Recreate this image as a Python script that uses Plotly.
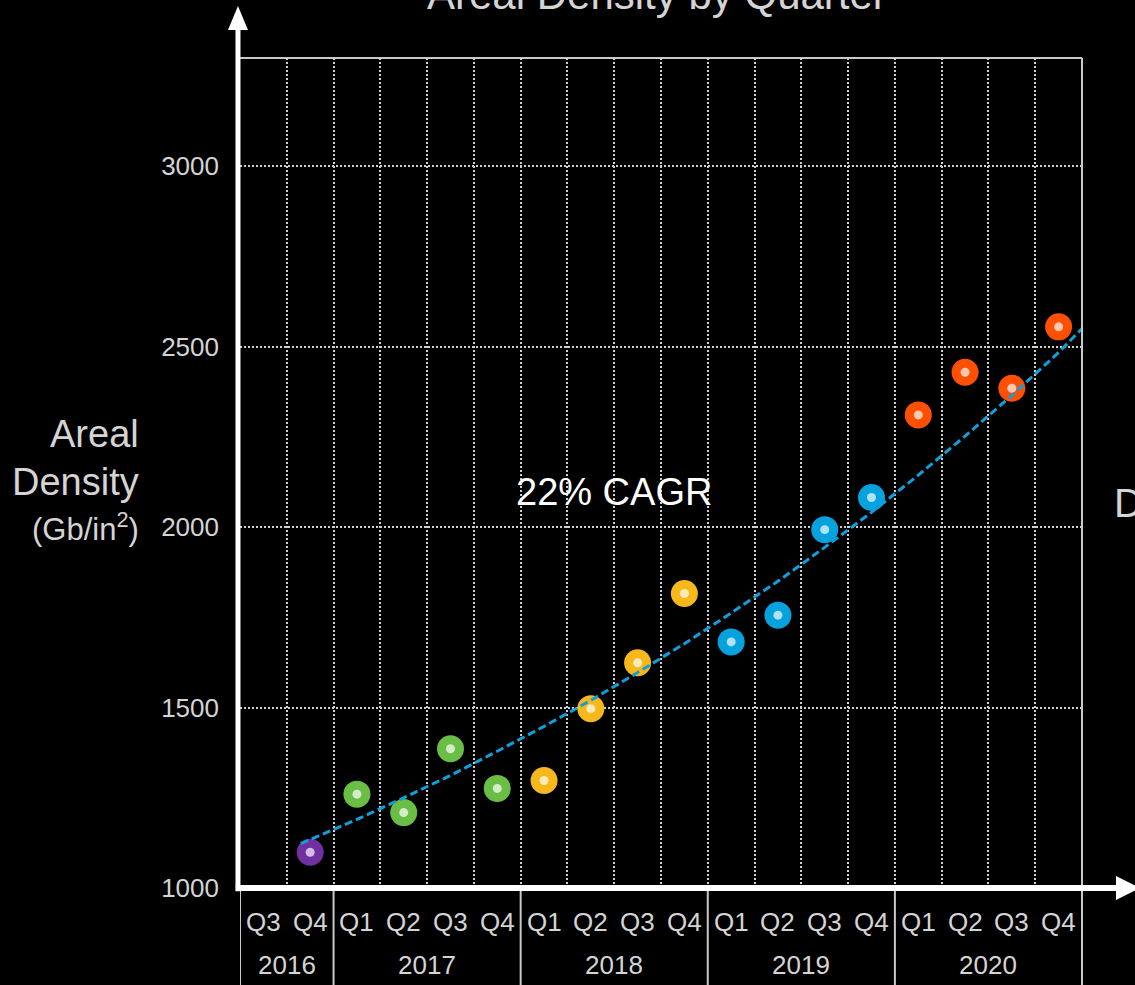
import plotly.graph_objects as go

# ---------------- data ----------------
quarter_labels = ["Q3", "Q4"] + ["Q1", "Q2", "Q3", "Q4"] * 4
years = ["2016", "2017", "2018", "2019", "2020"]
quarters_per_year = [2, 4, 4, 4, 4]
# areal density (Gb/in^2) per quarter, Q3 2016 .. Q4 2020 (no value for Q3 2016)
density = [None, 1099, 1260, 1209, 1386, 1276, 1298, 1497, 1624, 1816,
           1682, 1756, 1993, 2082, 2311, 2429, 2385, 2555]
# 22% CAGR trend line (position in quarters from Q3 2016)
trend_pos = [0.8, 1, 2, 3, 4, 5, 6, 7, 8, 9, 10, 11, 12, 13, 14, 15, 16, 17, 17.5]
trend_values = [1123, 1134, 1190, 1250, 1312, 1379, 1448, 1520, 1597, 1677,
                1762, 1850, 1944, 2041, 2144, 2252, 2365, 2484, 2550]
y_ticks = [1000, 1500, 2000, 2500, 3000]
title_text = "Areal Density by Quarter"
cagr_text = "22% CAGR"

# ---------------- style ----------------
FONT = "Liberation Sans, Arial, sans-serif"
year_colors = {"2016": "#7030a0", "2017": "#6abd45", "2018": "#f7b81b",
               "2019": "#05a2dd", "2020": "#fe5000"}
inner_colors = {"2016": "#d4bce6", "2017": "#d3edc8", "2018": "#fcebb8",
                "2019": "#aee2f6", "2020": "#ffc8b0"}
GRID = "#d0d0d0"
LABEL = "#d4d4d4"

# quarter -> year
quarter_year = []
for y, n in zip(years, quarters_per_year):
    quarter_year += [y] * n
positions = list(range(len(quarter_labels)))

fig = go.Figure()

for y in years:
    xs = [p for p in positions if quarter_year[p] == y and density[p] is not None]
    vs = [density[p] for p in xs]
    fig.add_trace(go.Scatter(x=xs, y=vs, mode="markers",
                             marker=dict(size=27, color=year_colors[y], line=dict(width=0)),
                             hoverinfo="skip"))
    fig.add_trace(go.Scatter(x=xs, y=vs, mode="markers",
                             marker=dict(size=9, color=inner_colors[y], line=dict(width=0)),
                             hoverinfo="skip"))

fig.add_trace(go.Scatter(x=trend_pos, y=trend_values, mode="lines",
                         line=dict(color="#119fdb", width=3, dash="8px,4px"),
                         hoverinfo="skip"))

n = len(quarter_labels)
fig.update_layout(
    width=1135, height=985,
    margin=dict(l=240, r=53, t=58, b=97),
    paper_bgcolor="black", plot_bgcolor="black",
    showlegend=False,
    font=dict(family=FONT, color=LABEL),
    xaxis=dict(range=[-0.5, n - 0.5], tickvals=[i + 0.5 for i in range(n - 1)],
               showticklabels=False, ticks="", showgrid=True, gridcolor=GRID,
               gridwidth=2, griddash="2px,2px", zeroline=False, showline=False,
               fixedrange=True),
    yaxis=dict(range=[1000, 3300], tickvals=y_ticks, showgrid=True, gridcolor=GRID,
               gridwidth=2, griddash="2px,2px", zeroline=False, showline=False,
               ticks="", ticklabelstandoff=20,
               tickfont=dict(size=26, color=LABEL, family=FONT), fixedrange=True),
)

# ---------------- annotations ----------------
ann = []
for i, q in enumerate(quarter_labels):
    ann.append(dict(x=i, y=-0.0405, xref="x", yref="paper", text=q, showarrow=False,
                    font=dict(size=26, color=LABEL, family=FONT), yanchor="middle"))
start = 0
for y, cnt in zip(years, quarters_per_year):
    ann.append(dict(x=start + (cnt - 1) / 2, y=-0.093, xref="x", yref="paper", text=y,
                    showarrow=False, font=dict(size=26, color=LABEL, family=FONT),
                    yanchor="middle"))
    start += cnt

ann.append(dict(x=0.4952, y=1.076, xref="paper", yref="paper", text=title_text,
                showarrow=False, font=dict(size=42, color=LABEL, family=FONT),
                yanchor="middle"))
ann.append(dict(x=7.5, y=2098, xref="x", yref="y", text=cagr_text, showarrow=False,
                font=dict(size=38, color="white", family=FONT), yanchor="middle"))
ann.append(dict(x=1.0362, y=0.4639, xref="paper", yref="paper", text="D", showarrow=False,
                font=dict(size=40, color=LABEL, family=FONT), xanchor="left",
                yanchor="middle"))
ann.append(dict(x=-0.1175, y=0.547, xref="paper", yref="paper", text="Areal",
                showarrow=False, font=dict(size=38, color=LABEL, family=FONT),
                xanchor="right", yanchor="middle"))
ann.append(dict(x=-0.1175, y=0.489, xref="paper", yref="paper", text="Density",
                showarrow=False, font=dict(size=38, color=LABEL, family=FONT),
                xanchor="right", yanchor="middle"))
ann.append(dict(x=-0.1175, y=0.435, xref="paper", yref="paper", text="(Gb/in<sup>2</sup>)",
                showarrow=False, font=dict(size=31, color=LABEL, family=FONT),
                xanchor="right", yanchor="middle"))
fig.update_layout(annotations=ann)

# ---------------- frame, separators and arrow axes ----------------
shapes = []
# top and right frame
shapes.append(dict(type="line", xref="paper", yref="paper", x0=0, x1=1, y0=1, y1=1,
                   line=dict(color="#c8c8c8", width=2)))
shapes.append(dict(type="line", xref="paper", yref="paper", x0=1, x1=1, y0=1, y1=-0.12,
                   line=dict(color="#c8c8c8", width=2)))
# year separators below axis
start = 0
for cnt in quarters_per_year:
    shapes.append(dict(type="line", xref="x", yref="paper", x0=start - 0.5, x1=start - 0.5,
                       y0=-0.12, y1=0, line=dict(color="#c8c8c8", width=2)))
    start += cnt
# y axis arrow
shapes.append(dict(type="line", xref="paper", yref="paper", x0=-0.0024, x1=-0.0024,
                   y0=-0.004, y1=1.036, line=dict(color="white", width=5)))
shapes.append(dict(type="path", xref="paper", yref="paper",
                   path="M -0.0024 1.0627 L -0.0143 1.0337 L 0.0095 1.0337 Z",
                   fillcolor="white", line=dict(width=0)))
# x axis arrow
shapes.append(dict(type="line", xref="paper", yref="paper", x0=-0.005, x1=1.042,
                   y0=0, y1=0, line=dict(color="white", width=6)))
shapes.append(dict(type="path", xref="paper", yref="paper",
                   path="M 1.0404 0.0145 L 1.0689 0 L 1.0404 -0.0145 Z",
                   fillcolor="white", line=dict(width=0)))
fig.update_layout(shapes=shapes)

fig.write_html(
    "out.html",
    config={"displayModeBar": False},
    post_script="document.body.style.margin='0';document.body.style.background='black';",
)
